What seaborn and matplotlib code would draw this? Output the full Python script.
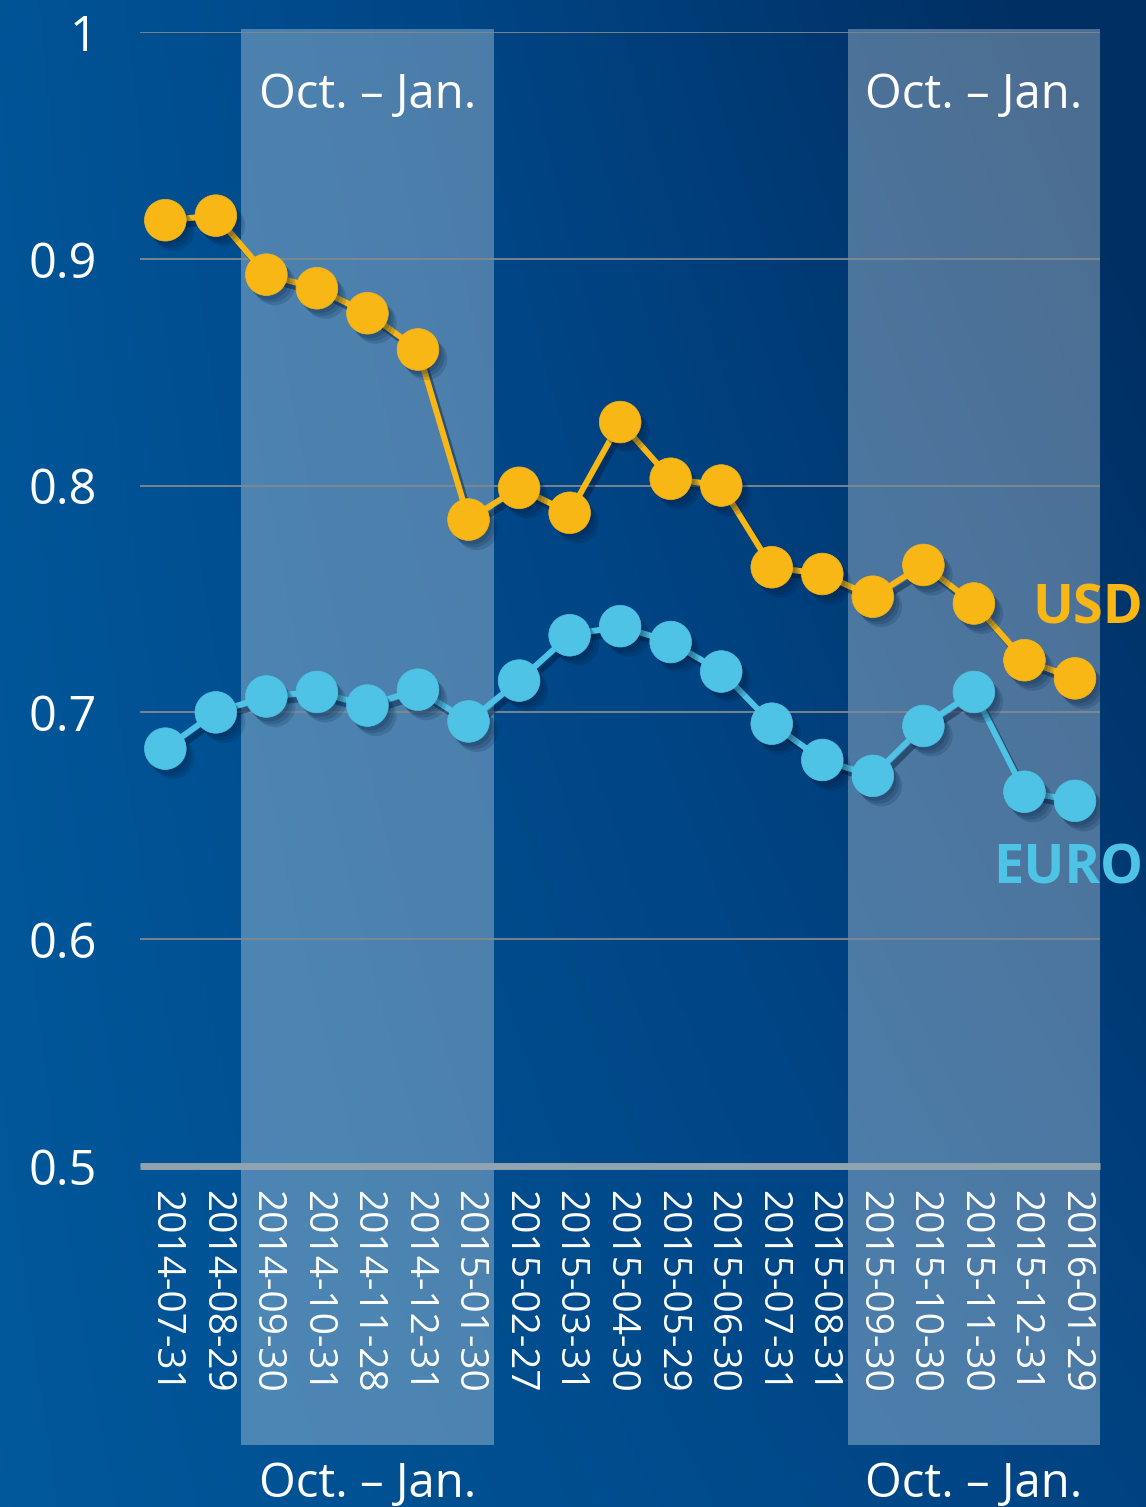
import numpy as np
import matplotlib
matplotlib.use('Agg')
import matplotlib.pyplot as plt
import matplotlib.patheffects as pe
import matplotlib.transforms as mtransforms
from matplotlib.colors import LinearSegmentedColormap
from matplotlib.patches import Rectangle
import seaborn as sns

# data
dates = ['2014-07-31', '2014-08-29', '2014-09-30', '2014-10-31', '2014-11-28',
         '2014-12-31', '2015-01-30', '2015-02-27', '2015-03-31', '2015-04-30',
         '2015-05-29', '2015-06-30', '2015-07-31', '2015-08-31', '2015-09-30',
         '2015-10-30', '2015-11-30', '2015-12-31', '2016-01-29']
usd = [0.917, 0.919, 0.893, 0.887, 0.876, 0.860, 0.785, 0.799, 0.788, 0.828,
       0.803, 0.800, 0.764, 0.761, 0.751, 0.765, 0.748, 0.723, 0.715]
euro = [0.684, 0.700, 0.707, 0.709, 0.703, 0.710, 0.696, 0.714, 0.734, 0.738,
        0.731, 0.718, 0.695, 0.679, 0.672, 0.694, 0.709, 0.665, 0.661]
bands = [('2014-09-30', '2015-01-30'), ('2015-09-30', '2016-01-29')]
band_label = 'Oct. – Jan.'
yticks = [0.5, 0.6, 0.7, 0.8, 0.9, 1.0]

USD_C = '#f9b715'
EURO_C = '#4fc3e6'

sns.set_theme(style='white')
plt.rcParams['font.family'] = ['Open Sans', 'DejaVu Sans']

fig = plt.figure(figsize=(11.46, 15.07), dpi=100)

# gradient background
bg = fig.add_axes([0, 0, 1, 1], zorder=-10)
yy, xx = np.mgrid[0:1:300j, 0:1:300j]
t = np.clip(xx * (0.55 + 0.45 * (1 - yy)) + 0.1 * (1 - yy), 0, 1)
cmap = LinearSegmentedColormap.from_list('bg', ['#01589b', '#004585', '#002f63'])
bg.imshow(t, cmap=cmap, aspect='auto', extent=[0, 1, 0, 1], origin='upper')
bg.set_axis_off()

ax = fig.add_axes([0.1222, 0.2263, 0.8379, 0.7525])
ax.patch.set_alpha(0)
pos = np.arange(len(dates))

# shaded Oct-Jan bands, running down under the tick labels
trans = mtransforms.blended_transform_factory(ax.transData, fig.transFigure)
for start, end in bands:
    x0 = dates.index(start) - 0.5
    x1 = dates.index(end) + 0.5
    ax.add_patch(Rectangle((x0, 0.0411), x1 - x0, 0.9397, transform=trans,
                           facecolor='white', alpha=0.3, lw=0, zorder=0.2, clip_on=False))
    ax.text((x0 + x1) / 2, 0.937, band_label, transform=trans, ha='center', va='center',
            color='white', fontsize=34)
    ax.text((x0 + x1) / 2, 0.015, band_label, transform=trans, ha='center', va='center',
            color='white', fontsize=34)

line_fx = [pe.SimpleLineShadow(offset=(3, -4), shadow_color='#001a3a', alpha=0.45), pe.Normal()]
dot_fx = [pe.SimplePatchShadow(offset=(o, -o - 1), shadow_rgbFace='#001a3a', alpha=0.16)
          for o in (2, 4, 6)] + [pe.Normal()]

for vals, c in [(usd, USD_C), (euro, EURO_C)]:
    sns.lineplot(x=pos, y=vals, color=c, linewidth=4.3, ax=ax, zorder=3)
    ax.lines[-1].set_path_effects(line_fx)
for vals, c in [(usd, USD_C), (euro, EURO_C)]:
    sns.scatterplot(x=pos, y=vals, color=c, s=900, edgecolor=c, linewidth=0.5, ax=ax, zorder=4)
    ax.collections[-1].set_path_effects(dot_fx)

ax.set_xlim(-0.5, len(dates) - 0.5)
ax.set_ylim(0.5, 1.0)
ax.set_xticks(pos, dates, rotation=270, ha='center', va='top', fontsize=28, color='white')
ax.set_yticks(yticks, [f'{v:g}' for v in yticks], fontsize=35, color='white')
ax.tick_params(axis='x', length=0, pad=17)
ax.tick_params(axis='y', length=0, pad=31)
ax.grid(axis='y', color='#80898f', linewidth=1.3)
ax.grid(axis='x', visible=False)
ax.set_xlabel('')
ax.set_ylabel('')
for s in ['top', 'right', 'left']:
    ax.spines[s].set_visible(False)
ax.spines['bottom'].set_color('#8fa3b0')
ax.spines['bottom'].set_linewidth(5)
ax.spines['bottom'].set_capstyle('butt')
ax.spines['bottom'].set_zorder(2)

fig.text(0.9974, 1 - 610 / 1507, 'USD', ha='right', va='center', fontsize=39,
         fontweight='bold', color=USD_C)
fig.text(0.9974, 1 - 870 / 1507, 'EURO', ha='right', va='center', fontsize=39,
         fontweight='bold', color=EURO_C)

fig.savefig('out.png', dpi=100)
